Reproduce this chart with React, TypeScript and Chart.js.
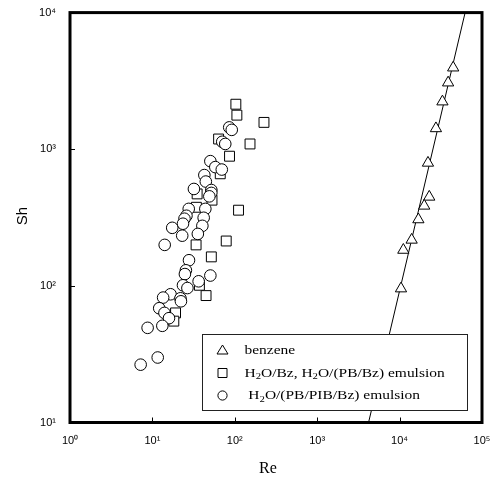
import React, { useEffect, useRef } from 'react';
import { Chart, registerables } from 'chart.js';

Chart.register(...registerables);

// benzene (triangles)
const benzeneRe = [44700, 38800, 33100, 27600, 22100, 22900, 19900, 16900, 14000, 11100, 10400];
const benzeneSh = [3950, 3070, 2230, 1420, 794, 448, 385, 306, 217, 183, 95.5];

// H2O/Bz, H2O/(PB/Bz) emulsion (squares)
const bzRe = [103, 106, 226, 153, 63.6, 86.3, 66.6, 34.9, 52.9, 34.2, 111, 33.9, 78.7, 51.9, 44.8, 19.1, 18.2, 37.2];
const bzSh = [2135, 1776, 1572, 1093, 1188, 889, 661, 471, 424, 376, 358, 199.5, 213, 163, 84.9, 63.4, 55.2, 101];

// H2O/(PB/PIB/Bz) emulsion (circles)
const pibRe = [85.6, 91.8, 70.4, 76.6, 50.5, 58.0, 69.5, 42.7, 44.5, 31.9, 51.9, 51.9, 49.1, 27.6, 43.9, 25.9, 24.5, 41.9, 23.5, 40.4, 17.4, 23.0, 35.6, 14.1, 27.8, 25.5, 24.8, 36.4, 50.5, 23.5, 26.6, 16.6, 13.5, 21.9, 22.2, 12.1, 14.0, 15.9, 13.2, 8.75, 11.6, 7.2];
const pibSh = [1445, 1386, 1134, 1093, 818, 740, 710, 647, 580, 512, 503, 479, 452, 366, 366, 326, 310, 315, 285, 275, 266, 233, 240, 199.5, 154, 130, 122, 108, 119, 101, 96.4, 86.8, 82.1, 81.1, 77.1, 68.6, 63.4, 58.0, 51.0, 49.3, 29.9, 26.5];

// fitted line for benzene
const fitRe = [4200, 62400];
const fitSh = [10, 10000];

const xTicks = [1, 10, 100, 1000, 10000, 100000];
const yTicks = [10, 100, 1000, 10000];
const xTitle = 'Re';
const yTitle = 'Sh';
const legendLabels = ['benzene', 'H₂O/Bz, H₂O/(PB/Bz) emulsion', ' H₂O/(PB/PIB/Bz) emulsion'];
const legendMarkers = ['triangle', 'rect', 'circle'];

const SUP = ['⁰', '¹', '²', '³', '⁴', '⁵', '⁶'];
const fmt = (v: number) => '10' + SUP[Math.round(Math.log10(v))];

const toPts = (xs: number[], ys: number[]) => xs.map((x, i) => ({ x, y: ys[i] }));

const drawRich = (ctx: CanvasRenderingContext2D, text: string, x: number, y: number, size: number) => {
  const parts = text.split('₂');
  let cx = x;
  parts.forEach((p, i) => {
    ctx.font = `${size}px "Liberation Serif", "Times New Roman", serif`;
    ctx.fillText(p, cx, y);
    cx += ctx.measureText(p).width;
    if (i < parts.length - 1) {
      ctx.font = `${Math.round(size * 0.68)}px "Liberation Serif", "Times New Roman", serif`;
      ctx.fillText('2', cx, y + size * 0.28);
      cx += ctx.measureText('2').width;
    }
  });
};

const framePlugin = {
  id: 'frame',
  afterDatasetsDraw(chart: any) {
    const { ctx, chartArea: a, scales } = chart;
    ctx.save();
    // inward ticks
    ctx.strokeStyle = '#000';
    ctx.lineWidth = 1;
    ctx.beginPath();
    xTicks.slice(1, -1).forEach((v) => {
      const px = Math.round(scales.x.getPixelForValue(v)) + 0.5;
      ctx.moveTo(px, a.bottom);
      ctx.lineTo(px, a.bottom - 5);
    });
    yTicks.slice(1, -1).forEach((v) => {
      const py = Math.round(scales.y.getPixelForValue(v)) + 0.5;
      ctx.moveTo(a.left, py);
      ctx.lineTo(a.left + 5, py);
    });
    ctx.stroke();
    // frame
    ctx.lineWidth = 3;
    ctx.strokeRect(a.left, a.top, a.right - a.left, a.bottom - a.top);

    // legend
    const lx = 202.5, ly = 334.5, lw = 265, lh = 76;
    ctx.fillStyle = '#fff';
    ctx.fillRect(lx, ly, lw, lh);
    ctx.lineWidth = 1;
    ctx.strokeStyle = '#222';
    ctx.strokeRect(lx, ly, lw, lh);
    const rows = [350, 372.5, 395];
    legendMarkers.forEach((m, i) => {
      const mx = 222.5, my = rows[i];
      ctx.beginPath();
      ctx.strokeStyle = '#000';
      ctx.fillStyle = '#fff';
      if (m === 'triangle') {
        ctx.moveTo(mx, my - 5);
        ctx.lineTo(mx + 5.5, my + 4);
        ctx.lineTo(mx - 5.5, my + 4);
        ctx.closePath();
      } else if (m === 'rect') {
        ctx.rect(mx - 4.5, my - 4, 9, 9);
      } else {
        ctx.arc(mx, my + 0.5, 4.6, 0, Math.PI * 2);
      }
      ctx.fill();
      ctx.stroke();
      ctx.fillStyle = '#000';
      ctx.textBaseline = 'middle';
      ctx.textAlign = 'left';
      ctx.save();
      ctx.translate(244.5, my + 1);
      ctx.scale(1.19, 1);
      drawRich(ctx, legendLabels[i], 0, 0, 13);
      ctx.restore();
    });

    // axis titles
    ctx.fillStyle = '#000';
    ctx.textAlign = 'center';
    ctx.textBaseline = 'middle';
    ctx.font = '16px "Liberation Serif", "Times New Roman", serif';
    ctx.fillText(xTitle, 268, 469);
    ctx.save();
    ctx.translate(23, 216);
    ctx.rotate(-Math.PI / 2);
    ctx.font = '15px "Liberation Sans", Arial, sans-serif';
    ctx.fillText(yTitle, 0, 0);
    ctx.restore();
    ctx.restore();
  },
};

export default function App() {
  const ref = useRef<HTMLCanvasElement>(null);
  useEffect(() => {
    const tickFont = { family: '"Liberation Sans", Arial, sans-serif', size: 11 };
    const chart = new Chart(ref.current as HTMLCanvasElement, {
      type: 'scatter',
      data: {
        datasets: [
          {
            label: 'fit',
            data: toPts(fitRe, fitSh),
            showLine: true,
            pointRadius: 0,
            borderColor: '#000',
            borderWidth: 1,
            order: 3,
          },
          {
            label: legendLabels[0],
            data: toPts(benzeneRe, benzeneSh),
            pointStyle: 'triangle',
            pointRadius: 6.5,
            pointBackgroundColor: '#fff',
            pointBorderColor: '#000',
            pointBorderWidth: 1,
            order: 2,
          },
          {
            label: legendLabels[1],
            data: toPts(bzRe, bzSh),
            pointStyle: 'rect',
            pointRadius: 7,
            pointBackgroundColor: '#fff',
            pointBorderColor: '#000',
            pointBorderWidth: 1,
            order: 1,
          },
          {
            label: legendLabels[2],
            data: toPts(pibRe, pibSh),
            pointStyle: 'circle',
            pointRadius: 5.8,
            pointBackgroundColor: '#fff',
            pointBorderColor: '#000',
            pointBorderWidth: 1,
            order: 0,
          },
        ],
      },
      options: {
        responsive: false,
        devicePixelRatio: 1,
        animation: false,
        layout: { padding: { left: 0, top: 10, right: 14, bottom: 0 } },
        plugins: { legend: { display: false }, tooltip: { enabled: false } },
        scales: {
          x: {
            type: 'logarithmic',
            min: 1,
            max: 100000,
            grid: { display: false },
            border: { display: false },
            afterBuildTicks: (s: any) => {
              s.ticks = xTicks.map((v) => ({ value: v }));
            },
            afterFit: (s: any) => {
              s.height = 61.5;
            },
            ticks: {
              padding: 4,
              color: '#000',
              font: tickFont,
              maxRotation: 0,
              autoSkip: false,
              callback: (v: any) => fmt(Number(v)),
            },
          },
          y: {
            type: 'logarithmic',
            min: 10,
            max: 10000,
            grid: { display: false },
            border: { display: false },
            afterBuildTicks: (s: any) => {
              s.ticks = yTicks.map((v) => ({ value: v }));
            },
            afterFit: (s: any) => {
              s.width = 70;
            },
            ticks: {
              padding: 6,
              color: '#000',
              font: tickFont,
              autoSkip: false,
              callback: (v: any) => fmt(Number(v)),
            },
          },
        },
      } as any,
      plugins: [framePlugin],
    });
    return () => chart.destroy();
  }, []);
  return (
    <div style={{ position: 'fixed', left: 0, top: 0, width: 496, height: 484, background: '#fff' }}>
      <canvas ref={ref} width={496} height={484} style={{ display: 'block' }} />
    </div>
  );
}
